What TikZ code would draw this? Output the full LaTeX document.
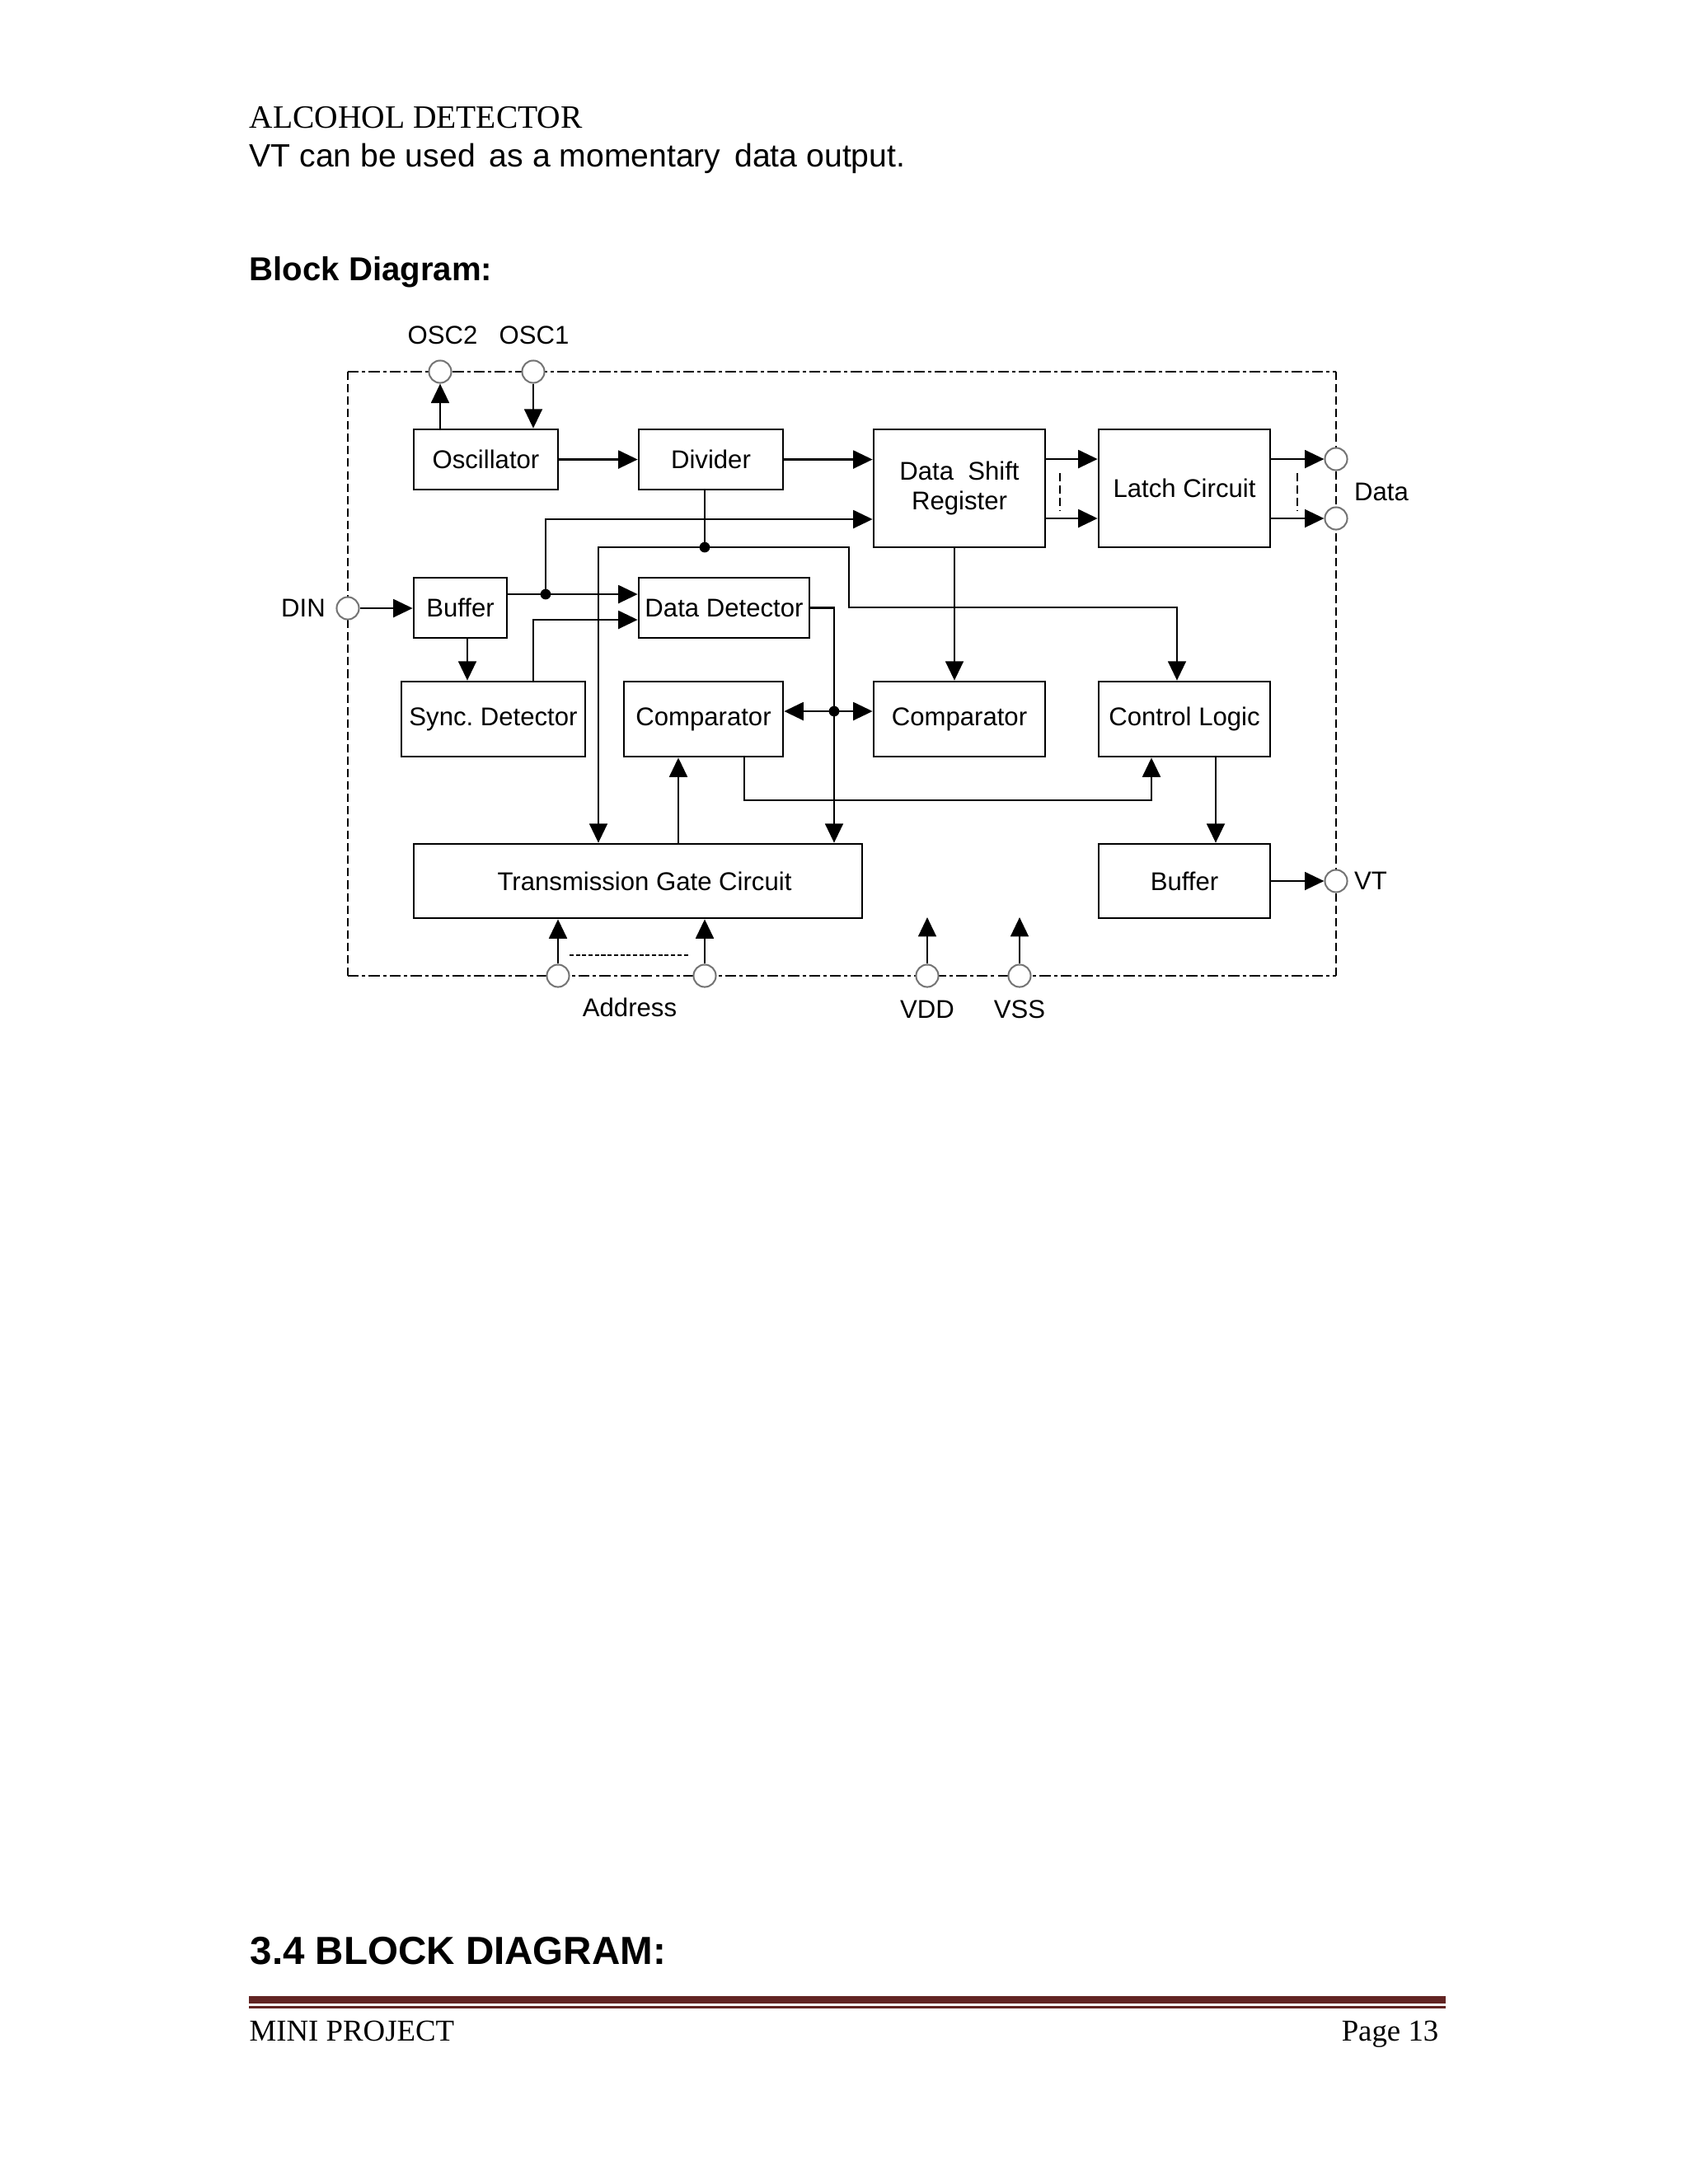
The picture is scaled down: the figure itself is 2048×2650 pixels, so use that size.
\documentclass[tikz,border=0pt]{standalone}
\usepackage{fontspec}
\setmainfont{Liberation Sans}
\newfontfamily\serifA{Liberation Serif}
\usetikzlibrary{arrows.meta,shapes.geometric}
\newcommand\dgfont{\fontsize{9.3}{11}\selectfont}
\newcommand\pxu{0.2988pt}
\definecolor{rulecol}{HTML}{622423}
\tikzset{
  blk/.style={draw, line width=0.8pt, inner sep=0pt, font=\dgfont, align=center},
  port/.style={circle, draw=black!55, fill=white, line width=0.6pt, minimum size=8.1pt, inner sep=0pt},
  arr/.style={-{Triangle[length=7pt,width=6.5pt]}, line width=0.8pt},
  wire/.style={line width=0.8pt},
  jdot/.style={circle, fill, inner sep=0pt, minimum size=3.8pt},
  framehz/.style={dash pattern=on 4pt off 1.2pt on 1.2pt off 1.2pt, line width=0.6pt},
  framevt/.style={dash pattern=on 3pt off 1.5pt, line width=0.6pt},
  lbl/.style={font=\dgfont, inner sep=0pt},
}
\begin{document}
\begin{tikzpicture}[x=0.2988pt,y=-0.2988pt]
\useasboundingbox (0,0) rectangle (2048,2650);

% page texts
\node[anchor=base west, inner sep=0pt, font=\serifA\fontsize{11.8}{14}\selectfont] (title) at (302,155) {ALCOHOL DETECTOR};
\node[anchor=base west, inner sep=0pt, font=\fontsize{11.7}{14}\selectfont] (intro) at (302,202) {VT can be used\hspace{1.8pt} as a momentary\hspace{1.8pt} data output.};
\node[anchor=base west, inner sep=0pt, font=\bfseries\fontsize{12}{14}\selectfont] (bdh) at (302,340) {Block Diagram:};
\node[anchor=base west, inner sep=0pt, font=\bfseries\fontsize{14.2}{16}\selectfont] (sec) at (303,2383) {3.4 BLOCK DIAGRAM:};
\fill[rulecol] (302,2422) rectangle (1754,2431);
\fill[rulecol] (302,2433.5) rectangle (1754,2436.5);
\node[anchor=base west, inner sep=0pt, font=\serifA\fontsize{11}{13}\selectfont] (foot) at (302,2476) {MINI PROJECT};
\node[anchor=base east, inner sep=0pt, font=\serifA\fontsize{11}{13}\selectfont] (page) at (1746,2476) {Page 13};

% frame
\draw[framehz] (422,451) -- (1621,451);
\draw[framehz] (422,1184) -- (1621,1184);
\draw[framevt] (422,451) -- (422,1184);
\draw[framevt] (1621,451) -- (1621,1184);

% blocks
\node[blk, minimum width=175*\pxu, minimum height=73*\pxu] (osc) at (589.5,557.5) {Oscillator};
\node[blk, minimum width=175*\pxu, minimum height=73*\pxu] (div) at (862.5,557.5) {Divider};
\node[blk, minimum width=208*\pxu, minimum height=143*\pxu] (dsr) at (1164,592.5) {Data\ \ Shift\\Register};
\node[blk, minimum width=208*\pxu, minimum height=143*\pxu] (latch) at (1437,592.5) {Latch Circuit};
\node[blk, minimum width=113*\pxu, minimum height=73*\pxu] (buf) at (558.5,737.5) {Buffer};
\node[blk, minimum width=207*\pxu, minimum height=73*\pxu] (dd) at (878.5,737.5) {Data Detector};
\node[blk, minimum width=223*\pxu, minimum height=91*\pxu] (sync) at (598.5,872.5) {Sync.\ Detector};
\node[blk, minimum width=193*\pxu, minimum height=91*\pxu] (cmpa) at (853.5,872.5) {Comparator};
\node[blk, minimum width=208*\pxu, minimum height=91*\pxu] (cmpb) at (1164,872.5) {Comparator};
\node[blk, minimum width=208*\pxu, minimum height=91*\pxu] (ctl) at (1437,872.5) {Control Logic};
\node[blk, minimum width=544*\pxu, minimum height=90*\pxu] (tgc) at (774,1069) {\hspace{4.8pt}Transmission Gate Circuit};
\node[blk, minimum width=208*\pxu, minimum height=90*\pxu] (bufb) at (1437,1069) {Buffer};

% ports
\node[port] (posc2) at (534,451) {};
\node[port] (posc1) at (647,451) {};
\node[port] (pdin) at (422,738) {};
\node[port] (pda) at (1621,557) {};
\node[port] (pdb) at (1621,629) {};
\node[port] (pvt) at (1621,1069) {};
\node[port] (paddra) at (677,1184) {};
\node[port] (paddrb) at (855,1184) {};
\node[port] (pvdd) at (1125,1184) {};
\node[port] (pvss) at (1237,1184) {};

% port labels
\node[lbl] (losc2) at (537,407) {OSC2};
\node[lbl] (losc1) at (648,407) {OSC1};
\node[lbl] (ldin) at (368,738) {DIN};
\node[lbl] (ldata) at (1676,597) {Data};
\node[lbl] (lvt) at (1663,1069) {VT};
\node[lbl] (laddr) at (764,1222) {Address};
\node[lbl] (lvdd) at (1125,1225) {VDD};
\node[lbl] (lvss) at (1237,1225) {VSS};

% connectors
\draw[arr] (posc2 |- osc.north) -- (posc2.south);
\draw[arr] (posc1.south) -- (posc1 |- osc.north);
\draw[arr] (osc.east) -- (div.west);
\draw[arr] (div.east) -- (div.east -| dsr.west);
\draw[arr] (pdin.east) -- (buf.west |- pdin);

\coordinate (j1) at (662,721);
\draw[arr] (buf.east |- j1) -- (dd.west |- j1);
\draw[arr] (j1) |- (dsr.west |- 0,630);
\node[jdot] (d1) at (j1) {};

\draw[arr] (buf.south -| 567,0) -- (sync.north -| 567,0);
\draw[arr] (sync.north -| 647,0) |- (dd.west |- 0,752);

\coordinate (j2) at (855,664);
\draw[wire] (div.south -| j2) -- (j2);
\draw[arr] (j2) -| (tgc.north -| 726,0);
\draw[arr] (j2) -| (1030,737) -| (ctl.north -| 1428,0);
\node[jdot] (d2) at (j2) {};

\draw[arr] (dd.east) -| (tgc.north -| 1012,0);
\coordinate (j3) at (1012,863);
\draw[arr] (j3) -- (cmpa.east |- j3);
\draw[arr] (j3) -- (cmpb.west |- j3);
\node[jdot] (d3) at (j3) {};

\draw[arr] (dsr.south -| 1158,0) -- (cmpb.north -| 1158,0);
\draw[arr] (tgc.north -| 823,0) -- (cmpa.south -| 823,0);
\draw[arr] (cmpa.south -| 903,0) -- (903,971) -| (ctl.south -| 1397,0);
\draw[arr] (ctl.south -| 1475,0) -- (bufb.north -| 1475,0);
\draw[arr] (bufb.east) -- (pvt.west);

\draw[arr] (dsr.east |- pda) -- (latch.west |- pda);
\draw[arr] (dsr.east |- pdb) -- (latch.west |- pdb);
\draw[framevt] (1286,574) -- (1286,620);
\draw[arr] (latch.east |- pda) -- (pda.west);
\draw[arr] (latch.east |- pdb) -- (pdb.west);
\draw[framevt] (1574,574) -- (1574,620);

\draw[arr] (paddra.north) -- (paddra |- tgc.south);
\draw[arr] (paddrb.north) -- (paddrb |- tgc.south);
\draw[dash pattern=on 1.5pt off 0.8pt, line width=0.6pt] (691,1159) -- (835,1159);
\draw[arr] (pvdd.north) -- (pvdd |- 0,1113);
\draw[arr] (pvss.north) -- (pvss |- 0,1113);
\end{tikzpicture}
\end{document}
